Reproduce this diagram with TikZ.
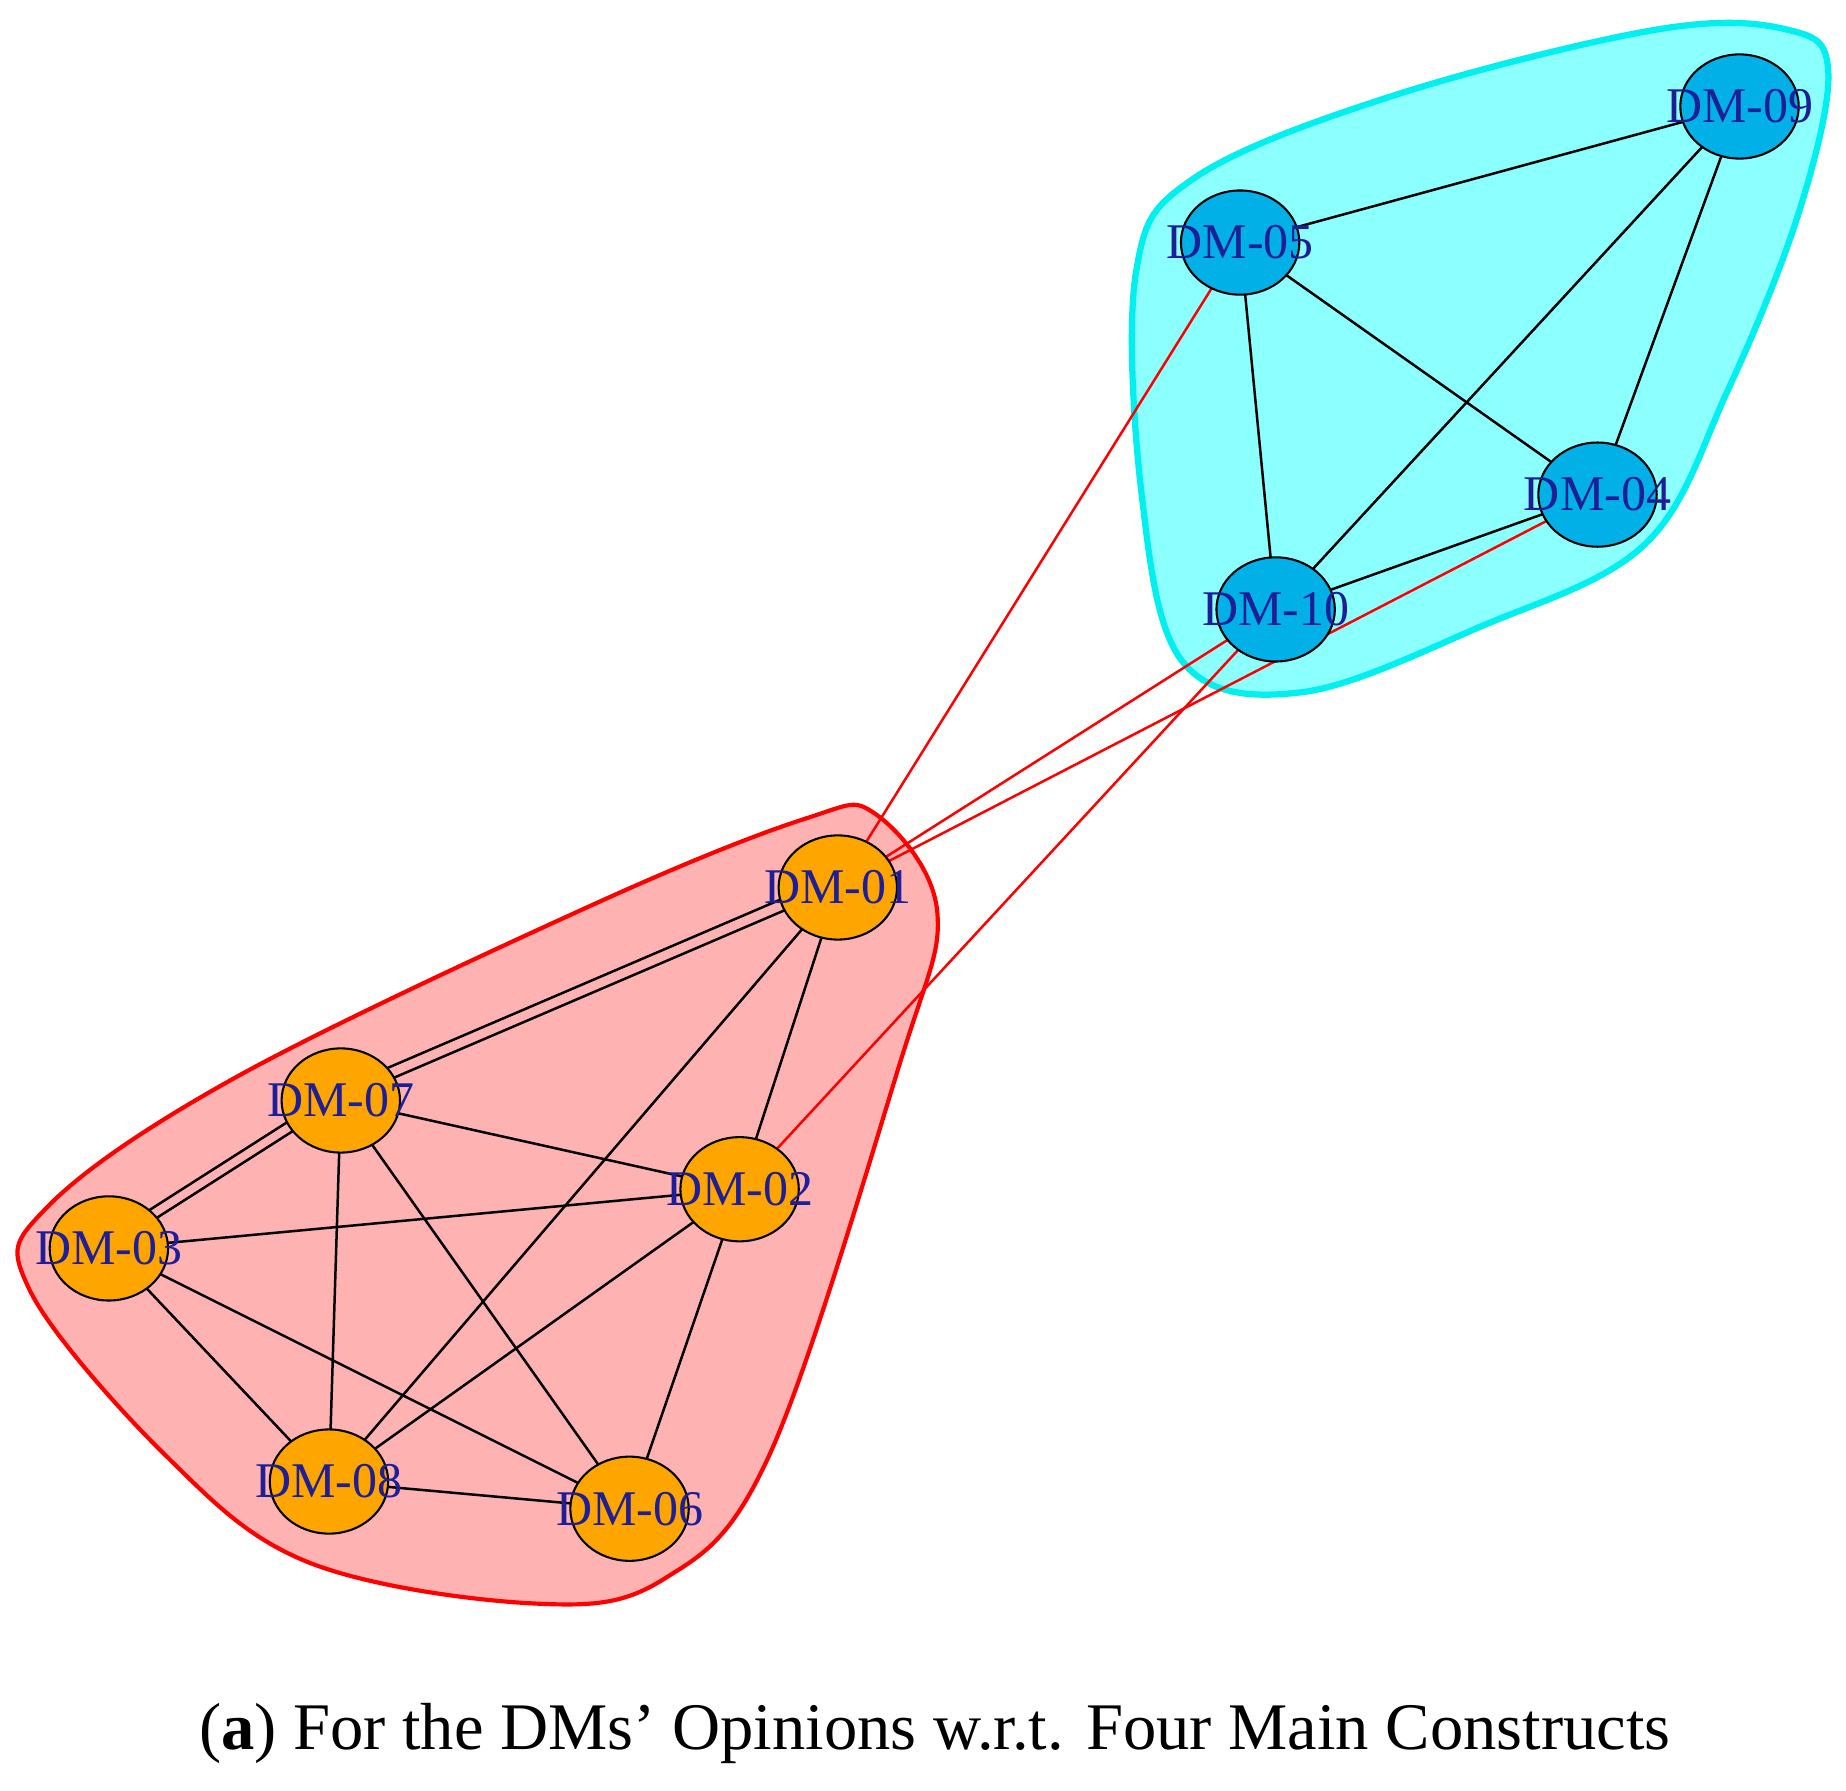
\documentclass[tikz,border=0pt]{standalone}
\usepackage{fontspec}
\setmainfont{Liberation Serif}
\usetikzlibrary{shapes.geometric,backgrounds}
\definecolor{hullc}{RGB}{140,255,255}
\definecolor{hulle}{RGB}{0,240,240}
\definecolor{nodec}{RGB}{0,176,230}
\definecolor{nodeo}{RGB}{255,165,0}
\definecolor{txt}{RGB}{30,30,150}
\begin{document}
\begin{tikzpicture}[x=0.01cm,y=-0.01cm,
 dm/.style={ellipse,draw=black,line width=0.5pt,minimum width=1cm,minimum height=0.88cm,inner sep=0pt,text width=0pt,
   label={[font=\fontsize{12}{12}\selectfont,text=txt,inner sep=0pt]center:#1}},
 blu/.style={dm=#1,fill=nodec},
 org/.style={dm=#1,fill=nodeo},
 e/.style={black,line width=0.6pt},
 r/.style={red,line width=0.6pt}]
\useasboundingbox (0,0) rectangle (1560,1513);
\node[blu=DM-09] (n09) at (1470,90) {};
\node[blu=DM-05] (n05) at (1048,205) {};
\node[blu=DM-04] (n04) at (1350,418) {};
\node[blu=DM-10] (n10) at (1078,515) {};
\node[org=DM-01] (n01) at (708,750) {};
\node[org=DM-07] (n07) at (288,930) {};
\node[org=DM-02] (n02) at (625,1005) {};
\node[org=DM-03] (n03) at (92,1055) {};
\node[org=DM-08] (n08) at (278,1252) {};
\node[org=DM-06] (n06) at (532,1275) {};
\begin{scope}[on background layer]
\fill[white] (0,0) rectangle (1560,1513);
\filldraw[draw=hulle,line width=1.5pt,fill=hullc] plot[smooth cycle,tension=0.6] coordinates {(1545,60)(1520,180)(1460,330)(1390,460)(1250,530)(1100,585)(1000,560)(965,420)(960,230)(1010,150)(1180,80)(1400,25)(1510,25)};
\filldraw[draw=red,line width=1pt,fill=red!30] plot[smooth cycle,tension=0.6] coordinates {(740,688)(792,770)(760,900)(650,1230)(560,1335)(450,1355)(260,1320)(140,1230)(25,1090)(40,1020)(200,910)(500,765)(680,692)};
\foreach \a/\b in {09/05,09/10,09/04,05/10,05/04,04/10,01/08,01/02,07/02,07/08,07/06,03/02,03/08,03/06,02/08,02/06,08/06,01/07,07/03}
  \draw[e] (n\a.center) -- (n\b.center);
\draw[e,transform canvas={yshift=3pt}] (n01.center) -- (n07.center);
\draw[e,transform canvas={yshift=3pt}] (n07.center) -- (n03.center);
\draw[r] (n05.center) -- (n01.center);
\draw[r] (n10.center) -- (n01.center);
\draw[r] (n04.center) -- (n01.center);
\draw[r] (n10.center) -- (n02.center);
\end{scope}
\node[font=\fontsize{16}{18}\selectfont] (cap) at (790,1465) {(\textbf{a}) For the DMs’ Opinions w.r.t. Four Main Constructs};
\end{tikzpicture}
\end{document}
